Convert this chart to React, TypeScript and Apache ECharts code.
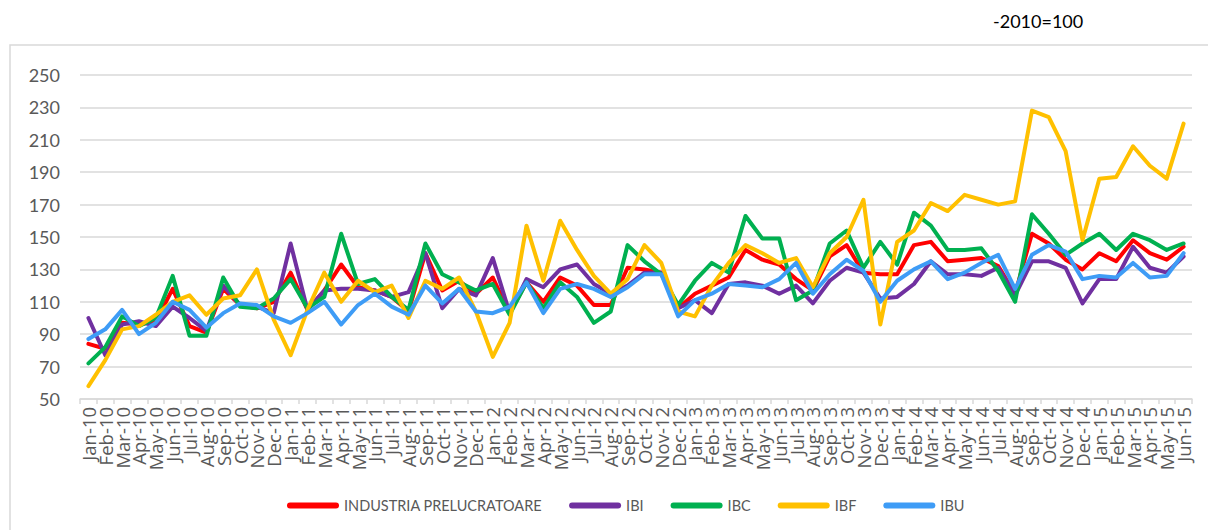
import React, { useEffect, useRef } from "react";
import * as echarts from "echarts";

const years = ["10", "11", "12", "13", "14", "15"];
const monthNames = ["Jan", "Feb", "Mar", "Apr", "May", "Jun", "Jul", "Aug", "Sep", "Oct", "Nov", "Dec"];
const categories: string[] = [];
years.forEach((y) => {
  monthNames.forEach((m) => {
    categories.push(`${m}-${y}`);
  });
});
const months = categories.slice(0, 66);

const industria = [
  84, 81, 97, 96, 98, 118, 95, 91, 118, 108, 106, 110,
  128, 105, 117, 133, 119, 117, 113, 104, 140, 117, 123, 115,
  125, 103, 122, 110, 125, 120, 108, 108, 131, 130, 128, 106,
  115, 120, 125, 142, 136, 133, 124, 117, 138, 145, 128, 127,
  127, 145, 147, 135, 136, 137, 132, 115, 152, 146, 136, 130,
  140, 135, 148, 140, 136, 144,
];
const ibi = [
  100, 77, 96, 98, 95, 107, 100, 92, 120, 108, 107, 103,
  146, 105, 117, 118, 118, 117, 113, 116, 140, 106, 118, 114,
  137, 103, 124, 119, 130, 133, 121, 115, 120, 128, 128, 106,
  111, 103, 121, 122, 120, 115, 120, 109, 123, 131, 128, 112,
  113, 121, 135, 127, 127, 126, 131, 114, 135, 135, 131, 109,
  124, 124, 144, 131, 128, 138,
];
const ibc = [
  72, 82, 101, 95, 100, 126, 89, 89, 125, 107, 106, 112,
  124, 106, 113, 152, 121, 124, 113, 105, 146, 127, 122, 117,
  121, 102, 122, 106, 122, 113, 97, 104, 145, 135, 127, 108,
  123, 134, 128, 163, 149, 149, 111, 117, 146, 154, 131, 147,
  133, 165, 157, 142, 142, 143, 129, 110, 164, 152, 139, 146,
  152, 142, 152, 148, 142, 146,
];
const ibf = [
  58, 74, 93, 95, 102, 110, 114, 102, 112, 114, 130, 99,
  77, 105, 128, 110, 123, 116, 120, 100, 123, 118, 125, 104,
  76, 97, 157, 123, 160, 142, 126, 115, 124, 145, 134, 104,
  101, 120, 134, 145, 140, 134, 137, 119, 140, 150, 173, 96,
  147, 154, 171, 166, 176, 173, 170, 172, 228, 224, 203, 148,
  186, 187, 206, 194, 186, 220,
];
const ibu = [
  87, 93, 105, 90, 97, 110, 105, 94, 103, 109, 108, 101,
  97, 103, 110, 96, 108, 115, 107, 102, 120, 109, 118, 104,
  103, 107, 122, 103, 118, 121, 118, 113, 119, 127, 127, 101,
  111, 115, 121, 120, 119, 124, 134, 115, 127, 136, 129, 110,
  123, 130, 135, 124, 128, 134, 139, 118, 139, 145, 141, 124,
  126, 125, 134, 125, 126, 140,
];

const seriesNames = ["INDUSTRIA PRELUCRATOARE", "IBI", "IBC", "IBF", "IBU"];
const seriesColors = ["#FF0000", "#7030A0", "#00B050", "#FFC000", "#3E9CF6"];
const seriesData = [industria, ibi, ibc, ibf, ibu];

export default function App() {
  const ref = useRef<HTMLDivElement>(null);
  useEffect(() => {
    document.body.style.margin = "0";
    if (!ref.current) return;
    const chart = echarts.init(ref.current, undefined, { renderer: "svg" });
    chart.setOption({
      animation: false,
      backgroundColor: "#ffffff",
      graphic: [
        {
          type: "rect",
          shape: { x: 10, y: 45, width: 1220, height: 520 },
          style: { fill: "none", stroke: "#D9D9D9", lineWidth: 1.5 },
          silent: true,
        },
        {
          type: "text",
          left: 993,
          top: 12,
          style: {
            text: "-2010=100",
            fill: "#000000",
            font: "18px Lato, sans-serif",
          },
        },
      ],
      legend: {
        left: 282,
        top: 493,
        itemWidth: 52,
        itemHeight: 6,
        itemGap: 27,
        icon: "path://M3,0 L49,0 A3,3 0 0 1 49,6 L3,6 A3,3 0 0 1 3,0 Z",
        textStyle: { color: "#595959", fontSize: 14.5, fontFamily: "Lato, sans-serif" },
        data: seriesNames,
      },
      grid: { left: 80, right: 16, top: 75, bottom: 131, containLabel: false },
      xAxis: {
        type: "category",
        data: months,
        boundaryGap: true,
        axisLine: { lineStyle: { color: "#D9D9D9", width: 1.5 } },
        axisTick: { show: true, length: 5, interval: 0, lineStyle: { color: "#D9D9D9", width: 1.5 } },
        axisLabel: {
          interval: 0,
          rotate: 90,
          margin: 8,
          color: "#595959",
          fontSize: 18.5,
          fontFamily: "'Open Sans', sans-serif",
        },
        splitLine: { show: false },
      },
      yAxis: {
        type: "value",
        min: 50,
        max: 250,
        interval: 20,
        axisLine: { show: false },
        axisTick: { show: false },
        axisLabel: { color: "#595959", fontSize: 18, fontFamily: "Lato, sans-serif", margin: 20 },
        splitLine: { lineStyle: { color: "#D9D9D9", width: 1.5 } },
      },
      series: seriesNames.map((name, i) => ({
        name,
        type: "line",
        data: seriesData[i],
        symbol: "none",
        smooth: false,
        color: seriesColors[i],
        lineStyle: { width: 4, color: seriesColors[i], join: "round", cap: "round" },
        emphasis: { disabled: true },
      })),
    });
    return () => chart.dispose();
  }, []);
  return <div ref={ref} style={{ width: 1208, height: 530 }} />;
}
